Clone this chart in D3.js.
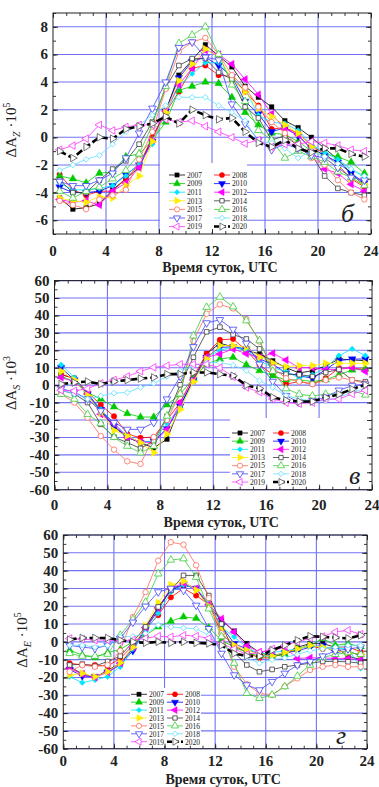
<!DOCTYPE html>
<html>
<head>
<meta charset="utf-8">
<script src="https://cdn.jsdelivr.net/npm/d3@7"></script>
<style>
  body { margin: 0; background: #fff; }
  svg { display: block; }
</style>
</head>
<body>
<svg id="chart" width="379" height="787"></svg>
<script>
// ---------- data ----------
const years = [2007, 2008, 2009, 2010, 2011, 2012, 2013, 2014, 2015, 2016, 2017, 2018, 2019, 2020];
const hours = d3.range(24).map(i => i + 0.5);
const xTicks = [0, 4, 8, 12, 16, 20, 24];
const azTicks = [-6, -4, -2, 0, 2, 4, 6, 8];
const asTicks = [-60, -50, -40, -30, -20, -10, 0, 10, 20, 30, 40, 50, 60];
const aeTicks = [-60, -50, -40, -30, -20, -10, 0, 10, 20, 30, 40, 50, 60];

// ΔA_Z ·10^5, one row per year
const azValues = [
  [-4.4,-5.2,-5.1,-4.8,-3.8,-3.0,-2.2,0.0,1.9,4.5,5.6,6.7,5.9,5.1,3.7,2.9,2.2,1.2,0.7,0.0,-0.8,-1.6,-2.6,-3.5],
  [-2.7,-3.8,-4.2,-3.9,-3.9,-3.0,-2.0,0.0,1.8,3.3,5.0,5.2,4.5,4.4,3.3,2.3,0.6,0.7,0.3,-0.6,-1.2,-2.0,-3.0,-3.6],
  [-2.8,-3.0,-3.3,-2.6,-2.5,-1.4,-1.2,-0.2,1.1,3.4,3.7,4.0,3.9,2.9,1.8,0.9,0.3,0.2,-0.3,-1.0,-1.2,-1.4,-1.8,-2.6],
  [-3.6,-4.0,-4.0,-3.9,-3.5,-2.7,-2.0,-0.3,1.9,4.3,5.5,5.8,5.2,4.4,2.6,1.7,0.4,0.7,0.1,-0.8,-1.3,-1.8,-2.6,-3.3],
  [-3.3,-3.8,-3.8,-3.7,-3.5,-2.8,-1.9,-0.5,1.8,3.7,4.6,5.4,5.4,4.3,3.5,1.6,1.1,1.0,0.5,-0.5,-1.1,-1.6,-2.3,-2.9],
  [-4.5,-4.7,-4.6,-4.9,-3.9,-3.3,-2.2,-0.2,1.9,3.8,5.0,6.3,6.0,5.3,4.2,3.1,1.7,0.6,0.2,-0.9,-2.3,-2.6,-3.4,-3.9],
  [-4.4,-4.6,-4.7,-4.3,-4.4,-3.5,-2.8,-0.3,1.8,4.1,5.3,6.4,5.8,4.2,3.3,2.1,1.5,0.9,0.3,-0.7,-1.5,-2.2,-3.0,-3.4],
  [-3.1,-4.0,-4.0,-3.1,-2.3,-1.7,-0.5,1.1,3.6,5.2,5.7,5.7,4.7,4.2,2.2,1.4,-0.2,0.1,-0.6,-1.2,-2.8,-3.7,-4.0,-4.2],
  [-4.6,-4.9,-5.2,-4.5,-4.2,-3.8,-1.6,0.4,3.5,6.2,6.9,7.2,6.0,4.5,3.6,2.2,1.1,0.3,-0.6,-1.5,-2.0,-3.1,-4.0,-4.5],
  [-3.9,-4.4,-3.9,-3.6,-3.0,-2.4,-1.2,0.9,3.7,6.8,7.4,8.0,6.0,3.8,2.6,0.5,-0.2,-1.5,-1.0,-1.4,-1.8,-2.5,-2.9,-3.5],
  [-3.2,-3.5,-3.5,-3.1,-2.6,-1.5,0.3,2.1,4.0,6.5,6.9,5.8,5.6,2.4,1.0,-0.2,-0.9,-0.5,-0.8,-1.3,-1.5,-2.2,-2.9,-3.1],
  [-2.4,-2.0,-1.6,-1.3,-0.5,0.4,0.9,1.6,2.3,2.9,2.9,2.9,2.3,1.8,1.2,-0.3,-0.4,-0.8,-1.5,-1.0,-1.4,-1.9,-2.3,-2.8],
  [-0.9,-0.6,-0.1,0.9,0.5,0.75,0.9,0.9,1.3,1.1,1.2,0.8,0.4,0.0,-0.45,-0.2,-0.7,-0.5,-0.5,-0.3,-0.4,-0.6,-0.9,-1.0],
  [-1.0,-1.5,-0.7,0.0,-0.1,0.6,0.8,1.0,1.5,1.0,2.0,1.6,1.3,1.4,0.4,-0.4,-0.7,-0.2,-0.8,-1.1,-0.8,-0.8,-1.2,-1.4]
];

// ΔA_S ·10^3
const asValues = [
  [6,4,-5,-15,-24,-30,-33,-36,-31,-12,3,18,24,22,20,17.9,14,10,7,8.3,11,15,14.5,14],
  [6,4,-4,-11.3,-17.9,-28,-30.2,-29.8,-20,-10,5,18,26,26.5,20,11.7,6,0.6,2.1,0.6,4,9.8,9.8,9],
  [5,2,-4.2,-8,-12.5,-16.3,-18.3,-18.3,-11.3,-5.2,4,12,15,16,11.7,8.3,5.4,3,3,2.1,3,6,8.7,9.2],
  [10,3,-5,-14,-23.5,-29.8,-33,-32,-25,-12,3,16,21.7,22,20.8,15,12,7,5.4,4,9,14,15,15],
  [11.7,4.4,-6,-14,-22,-29,-33,-32,-22,-13,2,16,20,22,20,14,10,7.9,4,6,10,16.9,20.8,16.9],
  [4.4,2,-5,-16.7,-22,-30,-32.5,-33,-25.4,-10,3,16,17.9,20.8,18,16,18.3,14.4,10,10,9,9,10.2,7.9],
  [8,3,-6,-16,-26,-29,-33,-38.8,-28,-14,2,15,22.7,22.7,21.7,16,12.7,10.6,11.2,11.2,12.5,12.5,12.5,12.5],
  [-3,-5,-10,-22.5,-29.8,-33,-36.3,-32,-18,0.2,16,30.6,33.3,29,26.5,20.8,8,6.3,6,5,7.3,9,2.9,2],
  [-5,-10,-18.7,-29.2,-37,-43.7,-45.2,-29.8,-20,-5,25.4,41,46.3,44,38,25,10,4,2,0.6,2.9,4.4,3,1],
  [-5.2,-8,-16.7,-22,-30,-35,-38.8,-35,-17.7,-5,28.3,44.7,50.6,45,37,25.6,8,-2,-5.2,-6.2,-5.2,-4.8,-3,-5.6],
  [-2,-4,-8,-14.8,-21.5,-25.4,-25.4,-21.5,-8,5,22,35.7,37.5,32,24,12,2.1,-6,-10,-9,-7,-2.9,-0.4,0.6],
  [-3,-5,-8,-6.2,-4.6,-4.2,-1.3,1,5,8,11,13,13,11.5,8.3,2.5,-1.3,-6,-8,-9,-9,-7,-4,-2],
  [-2.9,-3.3,-2,1,3,5,8,10.2,11.2,12,12,12,10,4.8,-1.3,-4,-8,-10,-10.6,-10,-8,-8,-5,-3],
  [0.6,1.5,2.1,0.6,2.1,2.9,3.8,4.4,6.3,6.3,7.3,7.3,6.3,5.4,0,-1.9,-7,-8.7,-9.4,-9.4,-7.1,-5.2,-2.3,0.2]
];

// ΔA_E ·10^5
const aeValues = [
  [-14,-18,-20,-16,-12,-4,8,19,29,32,30,20,12,6,-1,-6,-8,-7,-3,-1,-1,-3,-8,-10],
  [-12,-13,-13,-13.6,-9.3,-2,7,15,25,30,26,21,4.7,-2,-6,-9,-9,-6,-4,-2,-4,-3,-2.8,-5.6],
  [-4.7,-7.4,-8.8,-6,-4.3,0,3.7,8.4,11.6,14,13.2,8,0.9,-3,-6,-8,-8,-7,-4,-2,1.9,-2,-1,-2.8],
  [-15.5,-19.2,-19.6,-17,-13,-5,7,18,30,32,30,20,9,-1,-4,-7,-8,-6,-5,-3,-2,-6,-5,-8],
  [-19.6,-22.9,-21.4,-19.6,-14,-4,6,16,28,32,30,22,8.4,2.8,-3,-7,-6,-5,-4,-2,-3,-3.7,-3.7,-14.9],
  [-15,-18,-20,-17,-12,-3,8,19,30,33,30,21,13,5.6,-2.4,-5.6,-5,-3,-9.3,-9,-9,-9.3,-9.3,-10],
  [-18.6,-17.7,-19.6,-16.8,-11.7,-3,9,22,32,34,29,20,7,-1.9,-4.7,-7,-8,-6,-4,-2,-3,-5,-6,-7],
  [-13,-12.5,-13.6,-11,-8,0,8.4,19.6,28.9,37.3,37.3,26,10,-6,-13,-16.8,-15.5,-14,-13,-12,-11,-11,-11.2,-12],
  [-16.8,-13,-14,-13,-5,14,27.9,45.6,56,54.6,43,24.6,4.8,-14,-23.7,-28.9,-29.8,-25,-20.5,-15.8,-14,-13,-14,-14],
  [-6.5,-8,-8,-6.9,3.7,12.6,22.3,38.2,46,46.7,36.3,18.6,3,-12,-28.9,-31.7,-29.8,-25.1,-19.2,-13,-8.8,-7,-6,-7],
  [-2,-3,-3.7,-2,2,11,20,28,30,28.9,20.5,7.4,-6.5,-18.6,-24.2,-27,-22.3,-17.7,-13,-11,-8,-5,-4,-3],
  [-1.9,-1.9,-3,-2,2.8,3,4.7,9.3,8.4,7.8,7.4,3.7,-2,-6,-9,-12,-10,-9,-7,-5,-4,-3,-2,-2],
  [1.9,1.5,1,1,0.5,1,2,3.2,2.8,3.7,3.2,2,-1,-4,-7,-6,-4,-2,0,2,3,5.6,6.5,4.3],
  [1.3,2.2,2.2,2.2,0.9,0,-0.6,0,-0.6,0,-0.6,-0.9,-1.9,-6.5,-8,-8,-4.7,-1.9,0.9,3.2,2.8,2.4,1.9,3.7]
];

// ---------- styles ----------
const seriesStyle = [
  { color: '#000000', shape: 'square',   open: false },
  { color: '#ff0000', shape: 'circle',   open: false },
  { color: '#00cc00', shape: 'up',       open: false },
  { color: '#0000ff', shape: 'down',     open: false },
  { color: '#00e5ff', shape: 'diamond',  open: false },
  { color: '#ff00ff', shape: 'left',     open: false },
  { color: '#ffee00', shape: 'right',    open: false },
  { color: '#3a3a3a', shape: 'square',   open: true },
  { color: '#ff6a5a', shape: 'circle',   open: true },
  { color: '#3ccc3c', shape: 'up',       open: true },
  { color: '#4444ff', shape: 'down',     open: true },
  { color: '#5fe0ff', shape: 'diamond',  open: true },
  { color: '#ff33ff', shape: 'left',     open: true },
  { color: '#000000', shape: 'right',    open: true, marker: '#555555', thick: true }
];

const shapeDefs = {
  square:  { type: d3.symbolSquare,   size: 34, rot: 0 },
  circle:  { type: d3.symbolCircle,   size: 38, rot: 0 },
  up:      { type: d3.symbolTriangle, size: 40, rot: 0 },
  down:    { type: d3.symbolTriangle, size: 40, rot: 180 },
  left:    { type: d3.symbolTriangle, size: 40, rot: -90 },
  right:   { type: d3.symbolTriangle, size: 40, rot: 90 },
  diamond: { type: d3.symbolSquare,   size: 26, rot: 45 }
};

const panels = [
  {
    id: 'az', values: azValues, yDomain: [-7, 9], yTicks: azTicks, yMinor: 1,
    left: 53, right: 371, top: 13, bottom: 234,
    tickLabelY: 255.5, titleY: 272, yTitleX: 16, yTitleY: 130, yTitleSub: 'Z', yTitleExp: '5',
    legend: { box: [160, 163, 87, 69], c1: 177, c2: 222, y0: 175, dy: 8.6 },
    letter: { text: 'б', x: 341, y: 222 }
  },
  {
    id: 'as', values: asValues, yDomain: [-60, 60], yTicks: asTicks, yMinor: 5,
    left: 54.5, right: 372, top: 280.6, bottom: 489.7,
    tickLabelY: 510, titleY: 527, yTitleX: 16, yTitleY: 383, yTitleSub: 'S', yTitleExp: '3',
    legend: { box: [230, 418, 141, 70], c1: 240, c2: 281, y0: 433, dy: 8.17 },
    letter: { text: 'в', x: 349, y: 484 }
  },
  {
    id: 'ae', values: aeValues, yDomain: [-60, 60], yTicks: aeTicks, yMinor: 5,
    left: 63.3, right: 367, top: 535, bottom: 748.7,
    tickLabelY: 766, titleY: 784, yTitleX: 27, yTitleY: 640, yTitleSub: 'E', yTitleExp: '5',
    legend: { box: [130, 688, 71, 58], c1: 139, c2: 175, y0: 694.3, dy: 7.9 },
    letter: { text: 'г', x: 336, y: 744 }
  }
];

const svg = d3.select('#chart');
const serif = '"Liberation Serif", "DejaVu Serif", serif';
const markerScale = 0.62;

function markerPath(shape, scale) {
  const def = shapeDefs[shape];
  return d3.symbol(def.type, def.size * (scale || 1))();
}

function drawMarker(sel, st, scale) {
  const def = shapeDefs[st.shape];
  sel.append('path')
    .attr('d', markerPath(st.shape, scale))
    .attr('transform', d => `translate(${d[0]},${d[1]}) rotate(${def.rot})`)
    .attr('fill', st.open ? '#fff' : st.color)
    .attr('stroke', st.marker || st.color)
    .attr('stroke-width', st.open ? 0.8 : 0.4);
}

panels.forEach(p => {
  const x = d3.scaleLinear().domain([0, 24]).range([p.left, p.right]);
  const y = d3.scaleLinear().domain(p.yDomain).range([p.bottom, p.top]);
  const g = svg.append('g').attr('class', 'panel-' + p.id);

  g.append('clipPath').attr('id', 'clip-' + p.id)
    .append('rect')
    .attr('x', p.left).attr('y', p.top)
    .attr('width', p.right - p.left).attr('height', p.bottom - p.top);

  // grid
  const grid = g.append('g').attr('stroke', '#7272f2').attr('stroke-width', 1.1);
  grid.selectAll('.gx').data(xTicks.slice(1, -1)).join('line')
    .attr('x1', d => x(d)).attr('x2', d => x(d))
    .attr('y1', p.top).attr('y2', p.bottom);
  grid.selectAll('.gy').data(p.yTicks).join('line')
    .attr('x1', p.left).attr('x2', p.right)
    .attr('y1', d => y(d)).attr('y2', d => y(d));

  // series
  const plot = g.append('g').attr('clip-path', `url(#clip-${p.id})`);
  const line = d3.line().x(d => x(d[0])).y(d => y(d[1]));
  p.values.forEach((vals, i) => {
    const st = seriesStyle[i];
    const pts = hours.map((h, k) => [h, vals[k]]);
    const sg = plot.append('g');
    sg.append('path')
      .attr('d', line(pts))
      .attr('fill', 'none')
      .attr('stroke', st.color)
      .attr('stroke-width', st.thick ? 2.6 : 0.8)
      .attr('stroke-dasharray', st.thick ? '7,3' : null);
    sg.selectAll('g.m').data(pts.map(d => [x(d[0]), y(d[1])])).join('g')
      .each(function () { drawMarker(d3.select(this), st, markerScale); });
  });

  // legend
  const L = p.legend;
  g.append('rect')
    .attr('x', L.box[0]).attr('y', L.box[1])
    .attr('width', L.box[2]).attr('height', L.box[3])
    .attr('fill', '#fff');
  years.forEach((yr, i) => {
    const st = seriesStyle[i];
    const cx = i % 2 === 0 ? L.c1 : L.c2;
    const cy = L.y0 + Math.floor(i / 2) * L.dy;
    const lg = g.append('g');
    lg.append('line')
      .attr('x1', cx - 8).attr('x2', cx + 8)
      .attr('y1', cy).attr('y2', cy)
      .attr('stroke', st.color)
      .attr('stroke-width', st.thick ? 2.5 : 0.8)
      .attr('stroke-dasharray', st.thick ? '5,2' : null);
    lg.selectAll('g').data([[cx, cy]]).join('g')
      .each(function () { drawMarker(d3.select(this), st, 0.55); });
    lg.append('text')
      .attr('x', cx + 10).attr('y', cy + 2.8)
      .attr('font-family', serif).attr('font-size', 7.5)
      .attr('fill', '#222')
      .text(yr);
  });

  // ticks (inward, all four sides)
  const tickLayer = g.append('g');
  const minorX = d3.range(0, 25, 1);
  const minorY = d3.range(p.yDomain[0], p.yDomain[1] + 0.001, p.yMinor);
  const axes = [
    [d3.axisBottom(x).tickValues(xTicks).tickSize(-5), `translate(0,${p.bottom})`],
    [d3.axisBottom(x).tickValues(minorX).tickSize(-3), `translate(0,${p.bottom})`],
    [d3.axisTop(x).tickValues(xTicks).tickSize(-5), `translate(0,${p.top})`],
    [d3.axisTop(x).tickValues(minorX).tickSize(-3), `translate(0,${p.top})`],
    [d3.axisLeft(y).tickValues(p.yTicks).tickSize(-5), `translate(${p.left},0)`],
    [d3.axisLeft(y).tickValues(minorY).tickSize(-3), `translate(${p.left},0)`],
    [d3.axisRight(y).tickValues(p.yTicks).tickSize(-5), `translate(${p.right},0)`],
    [d3.axisRight(y).tickValues(minorY).tickSize(-3), `translate(${p.right},0)`]
  ];
  axes.forEach(([ax, tr]) => {
    const a = tickLayer.append('g').attr('transform', tr).call(ax.tickFormat(''));
    a.select('.domain').remove();
    a.selectAll('line').attr('stroke', '#222').attr('stroke-width', 0.9);
  });

  g.append('rect')
    .attr('x', p.left).attr('y', p.top)
    .attr('width', p.right - p.left).attr('height', p.bottom - p.top)
    .attr('fill', 'none').attr('stroke', '#222').attr('stroke-width', 1);

  // tick labels
  g.selectAll('.xl').data(xTicks).join('text')
    .attr('x', d => x(d)).attr('y', p.tickLabelY)
    .attr('text-anchor', 'middle')
    .attr('font-family', serif).attr('font-size', 15).attr('font-weight', 'bold')
    .attr('fill', '#222')
    .text(d => d);
  g.selectAll('.yl').data(p.yTicks).join('text')
    .attr('x', p.left - 5).attr('y', d => y(d) + 5)
    .attr('text-anchor', 'end')
    .attr('font-family', serif).attr('font-size', 15).attr('font-weight', 'bold')
    .attr('fill', '#222')
    .text(d => d);

  // axis titles
  g.append('text')
    .attr('x', (p.left + p.right) / 2 + 8).attr('y', p.titleY)
    .attr('text-anchor', 'middle')
    .attr('font-family', serif).attr('font-size', 14).attr('font-weight', 'bold')
    .attr('fill', '#222')
    .text('Время суток, UTC');

  const yt = g.append('text')
    .attr('transform', `translate(${p.yTitleX},${p.yTitleY}) rotate(-90)`)
    .attr('text-anchor', 'middle')
    .attr('font-family', serif).attr('font-size', 15)
    .attr('fill', '#222');
  yt.append('tspan').text('ΔA');
  yt.append('tspan').attr('font-size', 10).attr('dy', 4).attr('font-style', 'italic').text(p.yTitleSub);
  yt.append('tspan').attr('dy', -4).text(' ·10');
  yt.append('tspan').attr('font-size', 10).attr('dy', -6).text(p.yTitleExp);

  g.append('text')
    .attr('x', p.letter.x).attr('y', p.letter.y)
    .attr('font-family', serif).attr('font-size', 26).attr('font-style', 'italic')
    .attr('fill', '#222')
    .text(p.letter.text);
});
</script>
</body>
</html>
